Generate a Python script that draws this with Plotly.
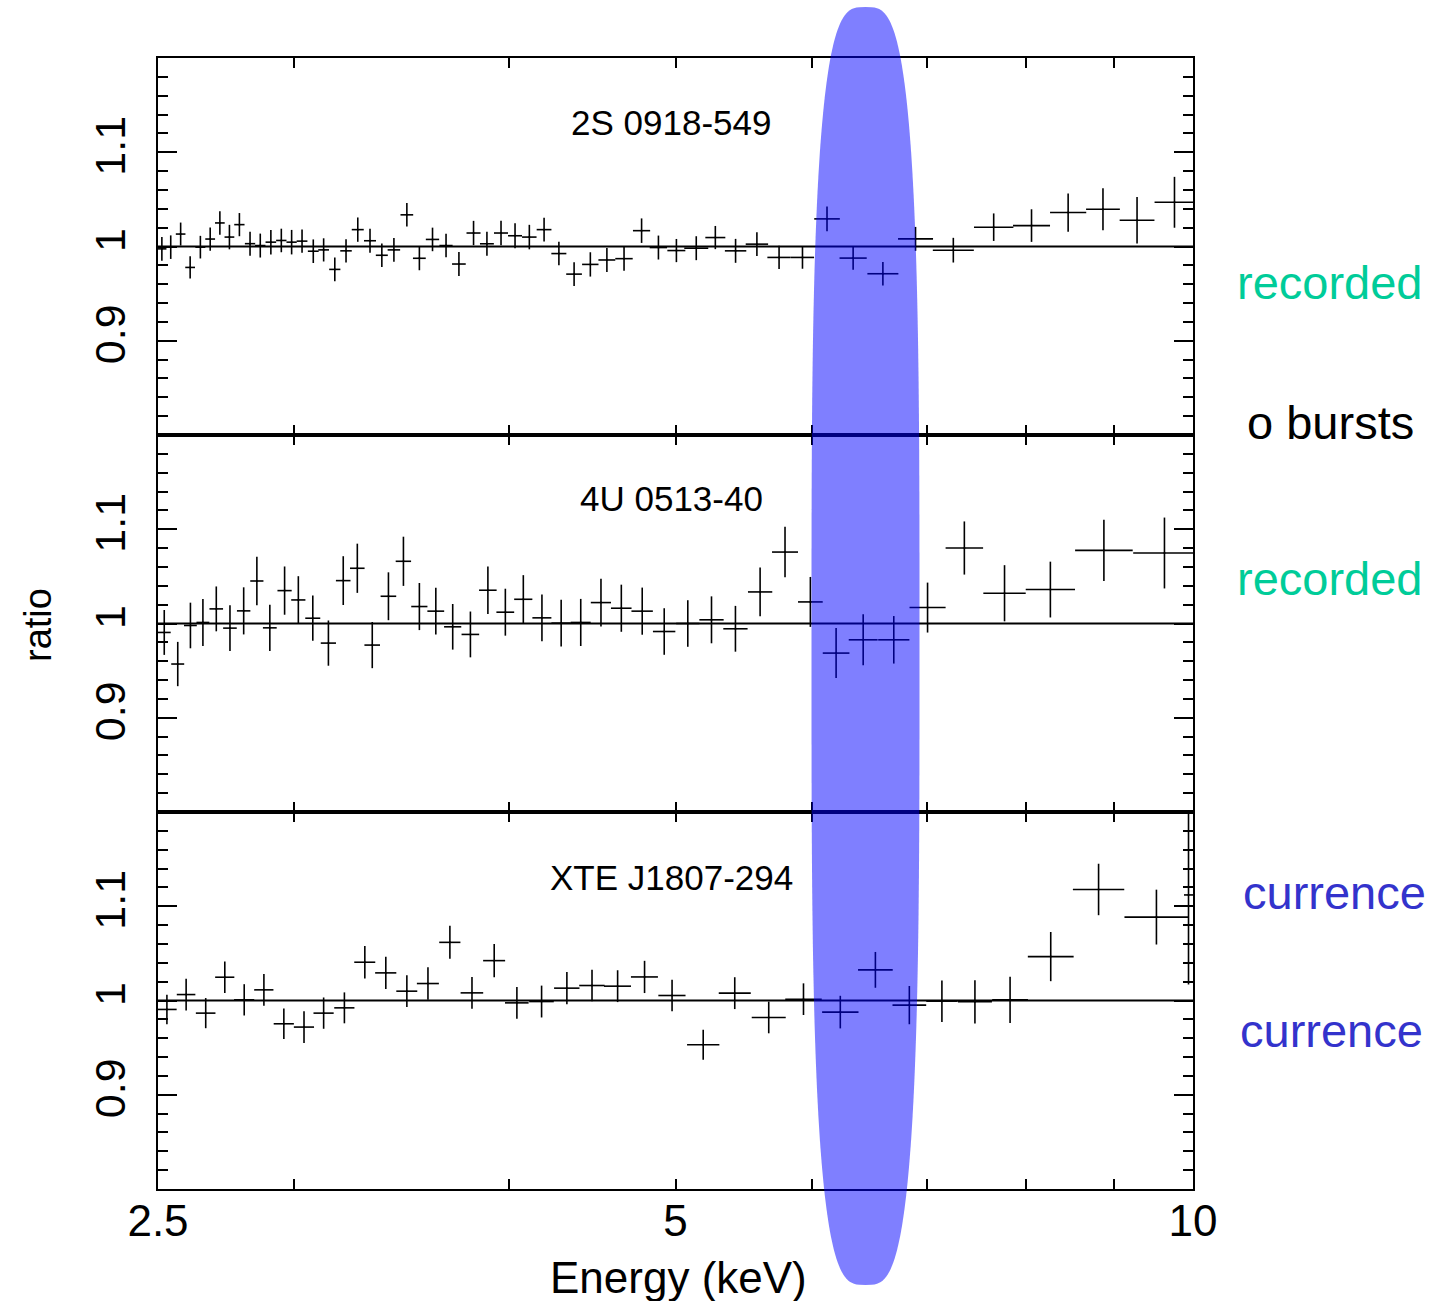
import numpy as np
import plotly.graph_objects as go
from plotly.subplots import make_subplots

# ---------------- data ----------------
# 2S 0918-549 (top panel)
E_2S = [2.513, 2.543, 2.577, 2.610, 2.646, 2.681, 2.716, 2.751, 2.788, 2.828, 2.867, 2.908, 2.949, 2.990,
        3.032, 3.078, 3.121, 3.168, 3.216, 3.267, 3.321, 3.374, 3.429, 3.489, 3.548, 3.611, 3.677, 3.741,
        3.815, 3.884, 3.958, 4.033, 4.111, 4.193, 4.277, 4.365, 4.461, 4.561, 4.667, 4.778, 4.887, 5.006,
        5.141, 5.274, 5.419, 5.576, 5.744, 5.927, 6.125, 6.343, 6.601, 6.896, 7.254, 7.657, 8.055, 8.460,
        8.864, 9.278, 9.755]
R_2S = [0.9975, 0.9993, 1.0132, 0.9778, 0.9993, 1.0079, 1.0250, 1.0100, 1.0232, 1.0030, 1.0010, 1.0046,
        1.0064, 1.0046, 1.0057, 0.9950, 0.9964, 0.9757, 0.9954, 1.0179, 1.0061, 0.9907, 0.9964, 1.0336,
        0.9875, 1.0075, 1.0010, 0.9814, 1.0143, 1.0029, 1.0143, 1.0114, 1.0100, 1.0179, 0.9925, 0.9707,
        0.9810, 0.9857, 0.9871, 1.0168, 0.9989, 0.9957, 0.9982, 1.0095, 0.9954, 1.0025, 0.9884, 0.9884,
        1.0293, 0.9877, 0.9711, 1.0081, 0.9961, 1.0205, 1.0222, 1.0360, 1.0395, 1.0279, 1.0469]
YERR_2S = [0.0125, 0.0125, 0.0122, 0.0118, 0.0120, 0.0123, 0.0125, 0.0130, 0.0123, 0.0127, 0.0127, 0.0130,
           0.0125, 0.0130, 0.0123, 0.0125, 0.0123, 0.0125, 0.0123, 0.0129, 0.0127, 0.0125, 0.0125, 0.0125,
           0.0127, 0.0125, 0.0125, 0.0127, 0.0129, 0.0127, 0.0129, 0.0132, 0.0130, 0.0127, 0.0125, 0.0125,
           0.0129, 0.0127, 0.0127, 0.0130, 0.0127, 0.0123, 0.0127, 0.0123, 0.0127, 0.0125, 0.0123, 0.0120,
           0.0131, 0.0123, 0.0125, 0.0127, 0.0131, 0.0146, 0.0173, 0.0203, 0.0222, 0.0247, 0.0270]
XLO_2S = [0.0155, 0.0160, 0.0166, 0.0171, 0.0177, 0.0176, 0.0176, 0.0180, 0.0192, 0.0195, 0.0200, 0.0206,
          0.0205, 0.0206, 0.0219, 0.0223, 0.0226, 0.0238, 0.0248, 0.0262, 0.0267, 0.0271, 0.0287, 0.0297,
          0.0304, 0.0322, 0.0325, 0.0343, 0.0358, 0.0361, 0.0371, 0.0378, 0.0399, 0.0415, 0.0430, 0.0459,
          0.0490, 0.0516, 0.0544, 0.0550, 0.0569, 0.0603, 0.0820, 0.0702, 0.0771, 0.0830, 0.0893, 0.0914,
          0.1040, 0.1145, 0.1357, 0.1598, 0.1964, 0.1994, 0.1971, 0.2026, 0.1984, 0.2137, 0.2568]
XHI_2S = [0.0155, 0.0160, 0.0166, 0.0171, 0.0177, 0.0176, 0.0176, 0.0180, 0.0192, 0.0195, 0.0200, 0.0206,
          0.0205, 0.0206, 0.0219, 0.0223, 0.0226, 0.0238, 0.0248, 0.0262, 0.0267, 0.0271, 0.0287, 0.0297,
          0.0304, 0.0322, 0.0325, 0.0343, 0.0358, 0.0361, 0.0371, 0.0378, 0.0399, 0.0415, 0.0430, 0.0459,
          0.0490, 0.0516, 0.0544, 0.0550, 0.0569, 0.0603, 0.0833, 0.0711, 0.0783, 0.0843, 0.0907, 0.0928,
          0.1060, 0.1166, 0.1385, 0.1636, 0.2020, 0.2047, 0.2021, 0.2076, 0.2029, 0.2187, 0.2636]

# 4U 0513-40 (middle panel)
E_4U = [2.521, 2.567, 2.611, 2.655, 2.703, 2.753, 2.804, 2.854, 2.904, 2.962, 3.017, 3.076, 3.141, 3.204,
        3.265, 3.331, 3.404, 3.473, 3.548, 3.627, 3.710, 3.799, 3.889, 3.981, 4.078, 4.181, 4.290, 4.404,
        4.525, 4.650, 4.782, 4.925, 5.083, 5.247, 5.418, 5.600, 5.790, 5.990, 6.200, 6.429, 6.698, 7.008,
        7.362, 7.769, 8.261, 8.875, 9.625]
R_4U = [0.9905, 0.9570, 0.9979, 1.0011, 1.0155, 0.9951, 1.0134, 1.0451, 0.9954, 1.0349, 1.0250, 1.0056,
        0.9792, 1.0455, 1.0586, 0.9771, 1.0289, 1.0660, 1.0180, 1.0131, 0.9965, 0.9884, 1.0353, 1.0120,
        1.0257, 1.0060, 1.0004, 1.0011, 1.0222, 1.0162, 1.0131, 0.9915, 1.0000, 1.0039, 0.9944, 1.0335,
        1.0758, 1.0229, 0.9686, 0.9827, 0.9827, 1.0169, 1.0801, 1.0321, 1.0360, 1.0776, 1.0748]
YERR_4U = [0.0238, 0.0235, 0.0242, 0.0250, 0.0238, 0.0242, 0.0250, 0.0257, 0.0245, 0.0256, 0.0252, 0.0240,
           0.0240, 0.0259, 0.0261, 0.0245, 0.0254, 0.0261, 0.0250, 0.0247, 0.0242, 0.0243, 0.0252, 0.0249,
           0.0256, 0.0249, 0.0247, 0.0250, 0.0254, 0.0250, 0.0250, 0.0247, 0.0247, 0.0249, 0.0243, 0.0259,
           0.0268, 0.0265, 0.0265, 0.0270, 0.0252, 0.0265, 0.0282, 0.0298, 0.0296, 0.0326, 0.0376]
XLO_4U = [0.0219, 0.0223, 0.0224, 0.0228, 0.0246, 0.0251, 0.0252, 0.0252, 0.0268, 0.0282, 0.0287, 0.0309,
          0.0320, 0.0313, 0.0319, 0.0348, 0.0356, 0.0358, 0.0385, 0.0408, 0.0427, 0.0448, 0.0458, 0.0474,
          0.0497, 0.0532, 0.0557, 0.0590, 0.0612, 0.0641, 0.0685, 0.0739, 0.0787, 0.0847, 0.0874, 0.0904,
          0.0999, 0.0983, 0.1099, 0.1232, 0.1385, 0.1674, 0.1826, 0.2175, 0.2682, 0.3358, 0.3947]
XHI_4U = [0.0219, 0.0223, 0.0224, 0.0228, 0.0246, 0.0251, 0.0252, 0.0252, 0.0268, 0.0282, 0.0287, 0.0309,
          0.0320, 0.0313, 0.0319, 0.0348, 0.0356, 0.0358, 0.0385, 0.0408, 0.0427, 0.0448, 0.0458, 0.0474,
          0.0497, 0.0532, 0.0557, 0.0590, 0.0612, 0.0641, 0.0685, 0.0739, 0.0800, 0.0861, 0.0889, 0.0919,
          0.1017, 0.0999, 0.1118, 0.1256, 0.1415, 0.1715, 0.1872, 0.2237, 0.2772, 0.3491, 0.4117]

# XTE J1807-294 (bottom panel)
E_XTE = [2.530, 2.596, 2.665, 2.734, 2.806, 2.881, 2.959, 3.040, 3.121, 3.209, 3.298, 3.392, 3.489, 3.589,
         3.696, 3.807, 3.922, 4.043, 4.179, 4.323, 4.471, 4.627, 4.797, 4.977, 5.189, 5.413, 5.665, 5.935,
         6.235, 6.535, 6.839, 7.144, 7.467, 7.827, 8.265, 8.812, 9.522, 9.940]
R_XTE = [0.9905, 1.0063, 0.9866, 1.0247, 1.0007, 1.0113, 0.9753, 0.9718, 0.9866, 0.9922, 1.0406, 1.0293,
         1.0099, 1.0180, 1.0617, 1.0081, 1.0423, 0.9975, 0.9989, 1.0131, 1.0159, 1.0152, 1.0250, 1.0053,
         0.9531, 1.0078, 0.9820, 1.0014, 0.9877, 1.0325, 0.9951, 0.9993, 0.9986, 1.0007, 1.0466, 1.1178,
         1.0885, 1.1120]
YERR_XTE = [0.0157, 0.0168, 0.0160, 0.0168, 0.0166, 0.0169, 0.0162, 0.0168, 0.0166, 0.0164, 0.0173, 0.0171,
            0.0169, 0.0173, 0.0175, 0.0168, 0.0176, 0.0168, 0.0169, 0.0171, 0.0166, 0.0169, 0.0171, 0.0168,
            0.0159, 0.0169, 0.0168, 0.0168, 0.0173, 0.0190, 0.0203, 0.0220, 0.0229, 0.0245, 0.0261, 0.0273,
            0.0291, 0.0950]
XLO_XTE = [0.0332, 0.0323, 0.0350, 0.0351, 0.0379, 0.0370, 0.0400, 0.0411, 0.0422, 0.0434, 0.0464, 0.0481,
           0.0490, 0.0529, 0.0525, 0.0576, 0.0578, 0.0639, 0.0688, 0.0735, 0.0760, 0.0836, 0.0867, 0.0906,
           0.1110, 0.1148, 0.1275, 0.1433, 0.1501, 0.1501, 0.1526, 0.1482, 0.1681, 0.1854, 0.2497, 0.2980,
           0.3992, 0.0600]
XHI_XTE = [0.0332, 0.0323, 0.0350, 0.0351, 0.0379, 0.0370, 0.0400, 0.0411, 0.0422, 0.0434, 0.0464, 0.0481,
           0.0490, 0.0529, 0.0525, 0.0576, 0.0578, 0.0639, 0.0688, 0.0735, 0.0760, 0.0836, 0.0867, 0.0906,
           0.1135, 0.1173, 0.1305, 0.1469, 0.1539, 0.1536, 0.1561, 0.1513, 0.1720, 0.1899, 0.2575, 0.3084,
           0.4166, 0.0600]

PANEL_NAMES = ["2S 0918-549", "4U 0513-40", "XTE J1807-294"]
UNITY = 1.0
X_RANGE = [2.5, 10.0]
Y_RANGE = [0.8, 1.2]
X_TICKS = [2.5, 3, 4, 5, 6, 7, 8, 9, 10]
X_TICKTEXT = ["2.5", "", "", "5", "", "", "", "", "10"]
Y_TICKS = [0.9, 1.0, 1.1]
Y_TICKTEXT = ["0.9", "1", "1.1"]
SIDE_TEXTS = ["recorded", "o bursts", "recorded", "currence", "currence"]
SIDE_COLORS = ["#00cc99", "#000000", "#00cc99", "#3333cc", "#3333cc"]

FONT = "Liberation Sans, Arial, Helvetica, sans-serif"

# ---------------- figure ----------------
W, H = 1445, 1301
L, R, T, B = 158, 252, 58, 112
PW, PH = W - L - R, H - T - B

def px_x(px):
    return (px - L) / PW

def px_y(py):
    return (H - B - py) / PH

fig = make_subplots(rows=3, cols=1, shared_xaxes=True, vertical_spacing=0)

panels = [
    (E_2S, R_2S, YERR_2S, XLO_2S, XHI_2S),
    (E_4U, R_4U, YERR_4U, XLO_4U, XHI_4U),
    (E_XTE, R_XTE, YERR_XTE, XLO_XTE, XHI_XTE),
]
for i, (e, r, ye, xl, xh) in enumerate(panels):
    fig.add_trace(go.Scatter(
        x=e, y=r, mode="markers",
        marker=dict(size=2, color="black"),
        error_x=dict(type="data", symmetric=False, array=xh, arrayminus=xl,
                     color="black", thickness=1.6, width=0),
        error_y=dict(type="data", array=ye, color="black", thickness=1.6, width=0),
        showlegend=False, hoverinfo="skip"),
        row=i + 1, col=1)
    fig.add_hline(y=UNITY, line=dict(color="black", width=2), row=i + 1, col=1)

for i in range(3):
    fig.update_xaxes(
        type="log", range=[np.log10(X_RANGE[0]), np.log10(X_RANGE[1])],
        tickmode="array", tickvals=X_TICKS, ticktext=X_TICKTEXT,
        ticks="inside", ticklen=10, tickwidth=2, tickcolor="black",
        showline=True, linewidth=1.5, linecolor="black", mirror="ticks",
        showgrid=False, zeroline=False,
        showticklabels=(i == 2), ticklabelstandoff=-8,
        tickfont=dict(family=FONT, size=44, color="black"),
        row=i + 1, col=1)
    fig.update_yaxes(
        range=Y_RANGE, tickmode="array", tickvals=Y_TICKS, ticktext=Y_TICKTEXT,
        ticks="inside", ticklen=19, tickwidth=2, tickcolor="black",
        minor=dict(ticks="inside", dtick=0.02, ticklen=10, tickwidth=2, tickcolor="black"),
        showline=True, linewidth=2, linecolor="black", mirror="ticks",
        showgrid=False, zeroline=False, tickangle=-90, ticklabelstandoff=14,
        tickfont=dict(family=FONT, size=43, color="black"),
        row=i + 1, col=1)

annotations = []
title_y = [122, 499, 877]
for name, yy in zip(PANEL_NAMES, title_y):
    annotations.append(dict(text=name, xref="paper", yref="paper", x=px_x(671), y=px_y(yy),
                            xanchor="center", yanchor="middle", showarrow=False,
                            font=dict(family=FONT, size=35, color="black")))

annotations.append(dict(text="ratio", xref="paper", yref="paper", x=px_x(38), y=px_y(625),
                        textangle=-90, xanchor="center", yanchor="middle", showarrow=False,
                        font=dict(family=FONT, size=38, color="black")))
annotations.append(dict(text="Energy (keV)", xref="paper", yref="paper", x=px_x(678), y=px_y(1277),
                        xanchor="center", yanchor="middle", showarrow=False,
                        font=dict(family=FONT, size=44, color="black")))

side_right = [1425, 1416, 1425, 1428, 1425]
side_y = [282, 423, 578, 892, 1030]
for txt, col, xr, yy in zip(SIDE_TEXTS, SIDE_COLORS, side_right, side_y):
    annotations.append(dict(text=txt, xref="paper", yref="paper", x=px_x(xr), y=px_y(yy),
                            xanchor="right", yanchor="middle", showarrow=False,
                            font=dict(family=FONT, size=47, color=col)))

# highlight band (Fe line region) as a tall rounded blob
cx, cy = px_x(865.5), px_y(646)
a, b = 54 / PW, 639 / PH
nexp = 3.3
t = np.linspace(0, 2 * np.pi, 241)
xs = cx + a * np.sign(np.cos(t)) * np.abs(np.cos(t)) ** (2 / nexp)
ys = cy + b * np.sign(np.sin(t)) * np.abs(np.sin(t)) ** (2 / nexp)
path = "M " + " L ".join(f"{x:.5f},{y:.5f}" for x, y in zip(xs, ys)) + " Z"

fig.add_shape(type="path", path=path, xref="paper", yref="paper",
              fillcolor="rgba(0,0,255,0.5)", line=dict(width=0), layer="above")

fig.update_layout(
    width=W, height=H,
    margin=dict(l=L, r=R, t=T, b=B),
    paper_bgcolor="white", plot_bgcolor="white",
    annotations=annotations,
    font=dict(family=FONT, color="black"),
)

fig.write_html("out.html")
